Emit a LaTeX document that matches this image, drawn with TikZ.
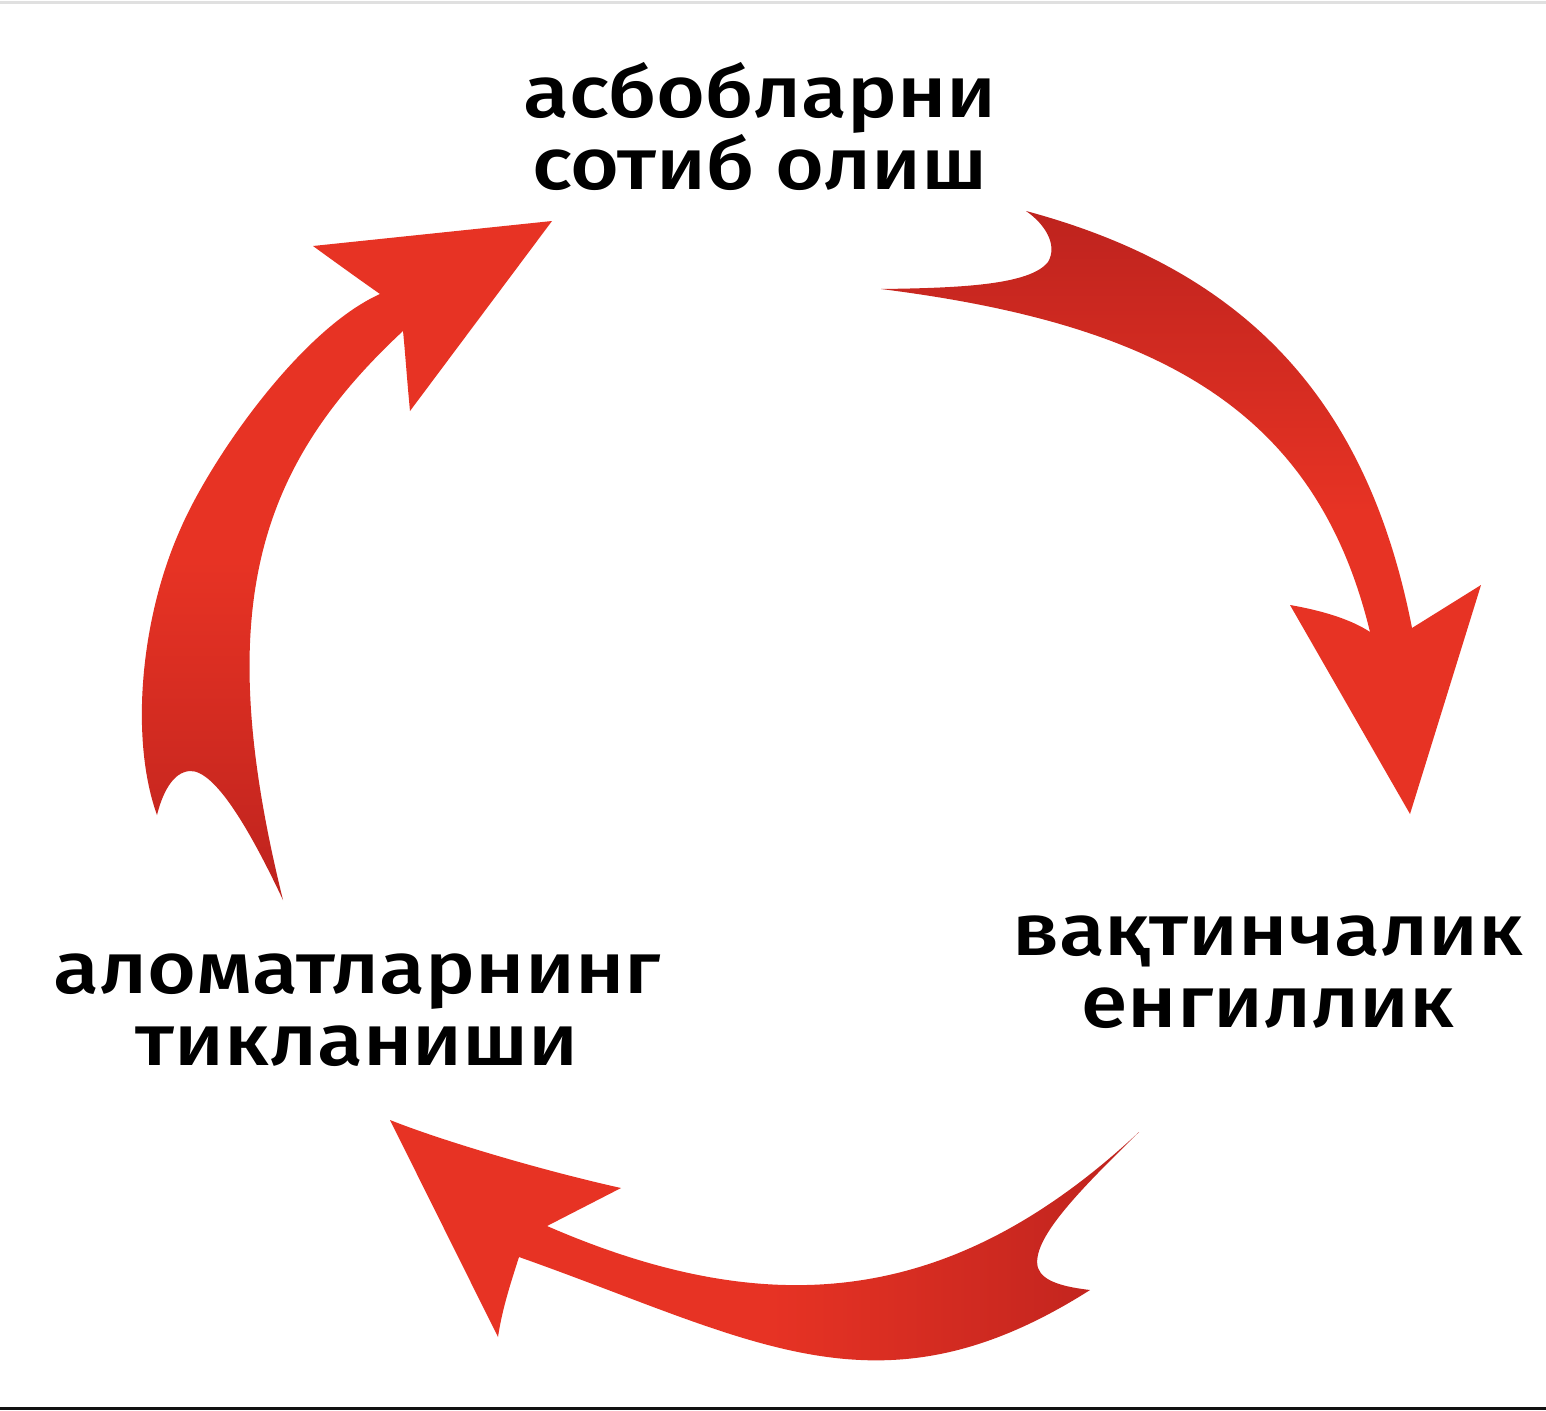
\documentclass[tikz,border=0pt]{standalone}
\usepackage{fontspec}
\setmainfont{Fira Sans}[UprightFont=* Medium, FakeStretch=1.15]
\definecolor{redB}{HTML}{E73324}
\definecolor{redD}{HTML}{BE231E}
\definecolor{topline}{HTML}{E0E0E0}
\tikzset{
  lbl/.style={align=center, inner sep=0pt, text=black, font=\fontsize{73}{72}\selectfont},
  arrowA/.style={top color=redD, bottom color=redB, middle color=redB},
  arrowB/.style={left color=redB, right color=redD, middle color=redB},
  arrowC/.style={top color=redB, bottom color=redD, middle color=redB},
}
\begin{document}
\begin{tikzpicture}[x=1pt,y=-1pt]
\useasboundingbox (0,0) rectangle (1546,1410);
\fill[white] (0,0) rectangle (1546,1410);
\fill[topline] (0,1) rectangle (1546,4);
\fill[black!93] (0,1407) rectangle (1546,1410);

% arrow 1 (top right)
\shade[arrowA] (881,289) .. controls (960,288) and (1030,285) .. (1048,262)
  .. controls (1058,245) and (1045,224) .. (1026,211)
  .. controls (1249,271) and (1368,403) .. (1412,628)
  -- (1481,585) -- (1410,814) -- (1290,605)
  .. controls (1330,612) and (1355,622) .. (1370,632)
  .. controls (1316,409) and (1158,324) .. (881,289)
  -- cycle;

% arrow 2 (bottom)
\shade[arrowB] (390,1120) .. controls (440,1140) and (540,1170) .. (621,1188) -- (547,1226)
  .. controls (777,1326) and (957,1302) .. (1139,1132)
  .. controls (1080,1190) and (1030,1240) .. (1038,1268)
  .. controls (1043,1282) and (1065,1287) .. (1090,1290)
  .. controls (879,1424) and (754,1340) .. (519,1257)
  .. controls (510,1285) and (502,1310) .. (498,1337)
  -- cycle;

% arrow 3 (left)
\shade[arrowC] (552,221) -- (410,411)
  .. controls (407,380) and (405,350) .. (403,331)
  .. controls (257,467) and (211,609) .. (283,900)
  .. controls (250,830) and (215,770) .. (190,771)
  .. controls (172,772) and (162,795) .. (157,815)
  .. controls (130,740) and (140,620) .. (180,530)
  .. controls (210,460) and (300,330) .. (380,294)
  .. controls (360,280) and (335,262) .. (313,246)
  -- cycle;

\node[lbl, anchor=base] (buy) at (760,189) {асбобларни\\сотиб олиш};
\node[lbl, anchor=base] (relief) at (1268,1027) {вақтинчалик\\енгиллик};
\node[lbl, anchor=base] (relapse) at (357,1065) {аломатларнинг\\тикланиши};
\end{tikzpicture}
\end{document}
